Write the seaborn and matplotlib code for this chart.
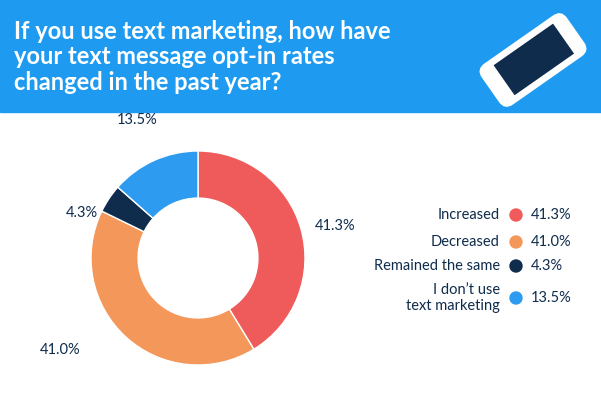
import matplotlib
matplotlib.use("Agg")
import matplotlib.pyplot as plt
import matplotlib.patches as mp
import matplotlib.transforms as mt
import seaborn as sns

sns.set_style("white")
plt.rcParams['font.family'] = ['Lato', 'DejaVu Sans']

categories = ["Increased", "Decreased", "Remained the same", "I don\u2019t use\ntext marketing"]
values = [41.3, 41.0, 4.3, 13.5]
labels = ["41.3%", "41.0%", "4.3%", "13.5%"]
colors = ["#ef5a5a", "#f4975a", "#0f2c4c", "#2d9cf0"]

W, H = 601, 400
fig = plt.figure(figsize=(6.01, 4.0), dpi=100)
bg = fig.add_axes([0, 0, 1, 1])
bg.set_xlim(0, W); bg.set_ylim(H, 0); bg.axis("off")
bg.add_patch(mp.Rectangle((0, 0), W, 112, color="#1e9bf0"))
bg.text(14, 20, "If you use text marketing, how have\nyour text message opt-in rates\nchanged in the past year?",
        color="white", fontsize=17, fontweight="bold", va="top", linespacing=1.12)
# phone icon
ph = mp.FancyBboxPatch((0, 0), 104, 50, boxstyle="round,pad=0,rounding_size=10", fc="white", ec="none")
t = mt.Affine2D().translate(-52, -25).rotate_deg(-35).translate(533, 60) + bg.transData
ph.set_transform(t); bg.add_patch(ph)
scr = mp.Rectangle((16, 6), 74, 38, fc="#0f2c4c"); scr.set_transform(t); bg.add_patch(scr)

# legend
ys = [215, 242, 266, 298]
for c, v, col, y in zip(categories, labels, colors, ys):
    bg.text(500, y, c, ha="right", va="center", fontsize=10.5, color="#0f2c4c", linespacing=1.2)
    bg.add_patch(mp.Circle((516, y), 6, color=col))
    bg.text(531, y, v, ha="left", va="center", fontsize=10.5, color="#0f2c4c")

# donut
ax = fig.add_axes([(198-107)/W, 1-(258+107)/H, 214/W, 214/H])
ax.pie(values, colors=colors, startangle=90, counterclock=False,
       wedgeprops=dict(width=0.44, edgecolor="white", linewidth=1))
ax.set_xlim(-1, 1); ax.set_ylim(-1, 1)
ax.set_aspect("equal")
pos = [(315, 226), (60, 350), (82, 213), (137, 120)]
for l, (x, y) in zip(labels, pos):
    bg.text(x, y, l, ha="left" if x > 300 else "center", va="center", fontsize=10.5, color="#0f2c4c")
fig.savefig("out.png", dpi=100)
